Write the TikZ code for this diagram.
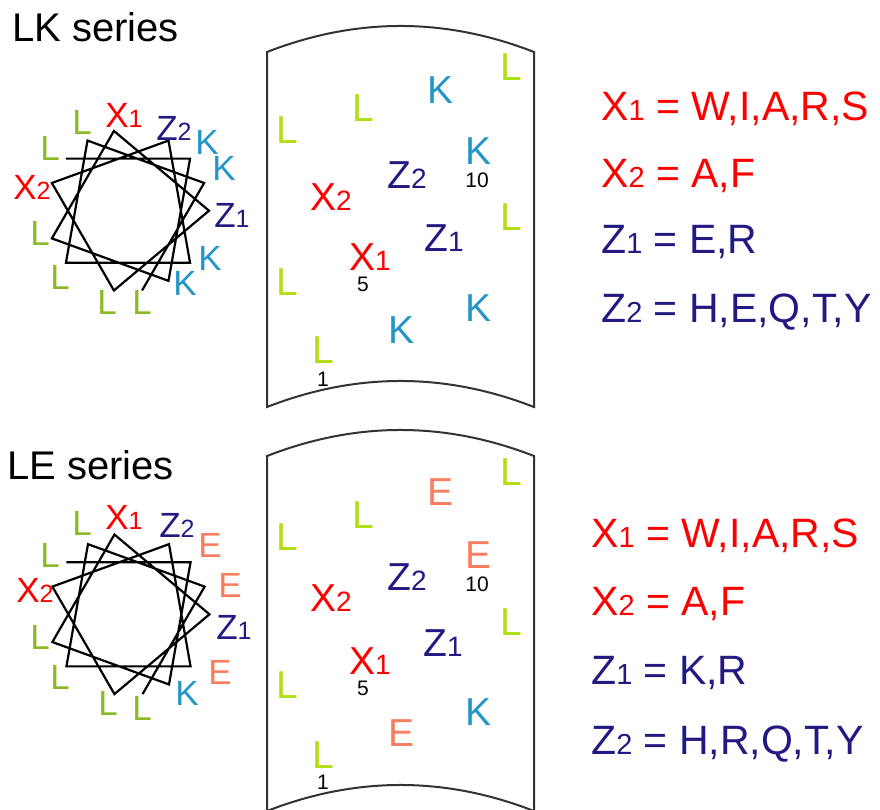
\documentclass[tikz,border=0pt]{standalone}
\usepackage{fontspec}
\setmainfont{Liberation Sans}
\definecolor{xred}{RGB}{255,0,0}
\definecolor{znavy}{RGB}{35,25,130}
\definecolor{lpanel}{RGB}{178,222,20}
\definecolor{lwheel}{RGB}{140,185,40}
\definecolor{kblue}{RGB}{35,150,200}
\definecolor{esalmon}{RGB}{250,125,95}
\newcommand\psub[1]{{\fontsize{28}{28}\selectfont #1}}
\newcommand\wsub[1]{{\fontsize{25}{25}\selectfont #1}}
\newcommand\rsub[1]{{\fontsize{29}{29}\selectfont #1}}
\tikzset{
  pl/.style={inner sep=0pt, font=\fontsize{39}{39}\selectfont},
  wl/.style={inner sep=0pt, font=\fontsize{35}{35}\selectfont},
  num/.style={inner sep=0pt, font=\fontsize{21}{21}\selectfont, text=black},
  rt/.style={inner sep=0pt, anchor=base west, font=\fontsize{41}{41}\selectfont},
  ttl/.style={inner sep=0pt, anchor=base west, font=\fontsize{40}{40}\selectfont},
  frame/.style={draw=black!80, line width=2pt},
  wheel/.style={draw=black, line width=2.2pt, line join=miter}
}
\begin{document}
\begin{tikzpicture}[x=1pt,y=-1pt]
\useasboundingbox (0,0) rectangle (880,809);

% ---------- titles
\node[ttl] (t1) at (12,41) {LK series};
\node[ttl] (t2) at (7,479) {LE series};

% ---------- helical wheels
\foreach \cx/\cy in {128/210.7, 128.5/614.3}{
  \draw[wheel] ({\cx+81*cos(140)},{\cy-81*sin(140)})
    \foreach \a in {40,300,200,100,0,260,160,60,320,220,120,20,280}{
      -- ({\cx+81*cos(\a)},{\cy-81*sin(\a)})
    };
}

% top wheel labels
\node[wl,text=lwheel] (wa1) at (82,122) {L};
\node[wl,text=lwheel] (wa2) at (50,148) {L};
\node[wl,text=xred] (wa3) at (124,115) {X\wsub{1}};
\node[wl,text=znavy] (wa4) at (174,128) {Z\wsub{2}};
\node[wl,text=kblue] (wa5) at (207,142) {K};
\node[wl,text=kblue] (wa6) at (224,168) {K};
\node[wl,text=znavy] (wa7) at (232,215) {Z\wsub{1}};
\node[wl,text=kblue] (wa8) at (210,258) {K};
\node[wl,text=kblue] (wa9) at (185,283) {K};
\node[wl,text=lwheel] (wa10) at (142,302) {L};
\node[wl,text=lwheel] (wa11) at (107,302) {L};
\node[wl,text=lwheel] (wa12) at (60,277) {L};
\node[wl,text=lwheel] (wa13) at (40,233) {L};
\node[wl,text=xred] (wa14) at (32,187) {X\wsub{2}};

% bottom wheel labels
\node[wl,text=lwheel] (wb1) at (82,523) {L};
\node[wl,text=lwheel] (wb2) at (50,555) {L};
\node[wl,text=xred] (wb3) at (124,517) {X\wsub{1}};
\node[wl,text=znavy] (wb4) at (177,525) {Z\wsub{2}};
\node[wl,text=esalmon] (wb5) at (210,545) {E};
\node[wl,text=esalmon] (wb6) at (230,585) {E};
\node[wl,text=znavy] (wb7) at (234,627) {Z\wsub{1}};
\node[wl,text=esalmon] (wb8) at (220,672) {E};
\node[wl,text=kblue] (wb9) at (187,693) {K};
\node[wl,text=lwheel] (wb10) at (142,708) {L};
\node[wl,text=lwheel] (wb11) at (108,703) {L};
\node[wl,text=lwheel] (wb12) at (60,677) {L};
\node[wl,text=lwheel] (wb13) at (40,637) {L};
\node[wl,text=xred] (wb14) at (35,590) {X\wsub{2}};

% ---------- panels
\foreach \dy in {0,404}{
  \draw[frame] (267,52+\dy) .. controls (356,17.3+\dy) and (445,17.3+\dy) .. (534,52+\dy)
     -- (534,407+\dy) .. controls (445,372.3+\dy) and (356,372.3+\dy) .. (267,407+\dy) -- cycle;
}

% top panel letters
\node[pl,text=lpanel] (pa1) at (511,67) {L};
\node[pl,text=kblue] (pa2) at (440,90) {K};
\node[pl,text=lpanel] (pa3) at (363,108) {L};
\node[pl,text=lpanel] (pa4) at (287,130) {L};
\node[pl,text=kblue] (pa5) at (478,151) {K};
\node[num] (pa6) at (477,180) {10};
\node[pl,text=znavy] (pa7) at (407,175) {Z\psub{2}};
\node[pl,text=xred] (pa8) at (331,197) {X\psub{2}};
\node[pl,text=lpanel] (pa9) at (511,217) {L};
\node[pl,text=znavy] (pa10) at (444,238) {Z\psub{1}};
\node[pl,text=xred] (pa11) at (370,257) {X\psub{1}};
\node[num] (pa12) at (363,284) {5};
\node[pl,text=lpanel] (pa13) at (287,282) {L};
\node[pl,text=kblue] (pa14) at (478,308) {K};
\node[pl,text=kblue] (pa15) at (402,330) {K};
\node[pl,text=lpanel] (pa16) at (323,350) {L};
\node[num] (pa17) at (323,379) {1};

% bottom panel letters
\node[pl,text=lpanel] (pb1) at (511,472) {L};
\node[pl,text=esalmon] (pb2) at (440,492) {E};
\node[pl,text=lpanel] (pb3) at (363,515) {L};
\node[pl,text=lpanel] (pb4) at (287,537) {L};
\node[pl,text=esalmon] (pb5) at (478,555) {E};
\node[num] (pb6) at (477,584) {10};
\node[pl,text=znavy] (pb7) at (407,577) {Z\psub{2}};
\node[pl,text=xred] (pb8) at (331,598) {X\psub{2}};
\node[pl,text=lpanel] (pb9) at (511,622) {L};
\node[pl,text=znavy] (pb10) at (443,643) {Z\psub{1}};
\node[pl,text=xred] (pb11) at (370,661) {X\psub{1}};
\node[num] (pb12) at (363,688) {5};
\node[pl,text=lpanel] (pb13) at (287,685) {L};
\node[pl,text=kblue] (pb14) at (478,712) {K};
\node[pl,text=esalmon] (pb15) at (402,733) {E};
\node[pl,text=lpanel] (pb16) at (323,755) {L};
\node[num] (pb17) at (323,782) {1};

% ---------- right legends
\node[rt,text=xred] (ra1) at (601,120) {X\rsub{1} = W,I,A,R,S};
\node[rt,text=xred] (ra2) at (601,187) {X\rsub{2} = A,F};
\node[rt,text=znavy] (ra3) at (601,253) {Z\rsub{1} = E,R};
\node[rt,text=znavy] (ra4) at (601,322) {Z\rsub{2} = H,E,Q,T,Y};

\node[rt,text=xred] (rb1) at (591,547) {X\rsub{1} = W,I,A,R,S};
\node[rt,text=xred] (rb2) at (591,615) {X\rsub{2} = A,F};
\node[rt,text=znavy] (rb3) at (591,684) {Z\rsub{1} = K,R};
\node[rt,text=znavy] (rb4) at (591,754) {Z\rsub{2} = H,R,Q,T,Y};
\end{tikzpicture}
\end{document}
